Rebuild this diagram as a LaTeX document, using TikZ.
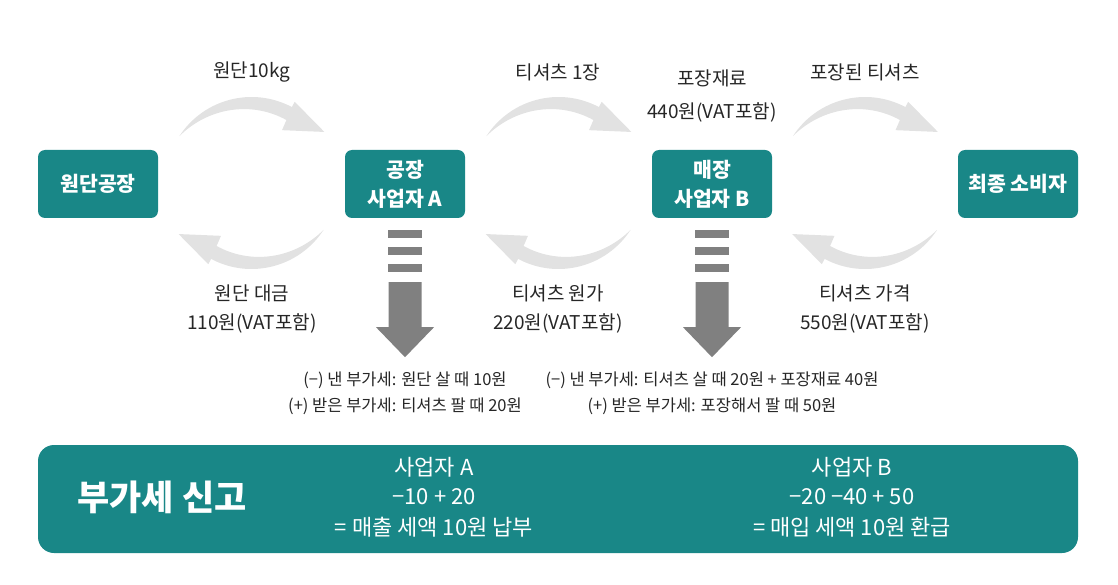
\documentclass[tikz,border=0pt]{standalone}
\usepackage{fontspec}
\setmainfont{Noto Sans CJK KR}
\usetikzlibrary{calc}
\definecolor{tealbox}{RGB}{25,135,135}
\definecolor{lgray}{RGB}{226,226,226}
\definecolor{dgray}{RGB}{128,128,128}
\definecolor{txt}{RGB}{38,38,38}
\tikzset{
  box/.style={fill=tealbox, rounded corners=7pt, minimum width=120pt, minimum height=68pt,
    text=white, font=\bfseries\fontsize{20.5}{29}\selectfont, align=center, inner sep=0pt},
  lbl/.style={text=txt, font=\fontsize{19}{30}\selectfont, inner sep=0pt},
  note/.style={text=txt, font=\fontsize{16.5}{26}\selectfont, inner sep=0pt},
  ptxt/.style={text=white, font=\fontsize{22}{30}\selectfont, inner sep=0pt},
  halfarrow/.pic={
    \begin{scope}[x=1pt,y=1pt]
    \fill[lgray] (147:86) arc[start angle=147, end angle=62, radius=86]
      -- (62:92) -- (35:89) -- (60:61) -- (61:72)
      -- plot[domain=61:147, samples=40, smooth] (\x:{72+14*((\x-61)/86)^2})
      -- cycle;
    \end{scope}
  },
  cycle pair/.pic={
    \pic {halfarrow};
    \pic[rotate=180] {halfarrow};
  },
  downarrow/.pic={
    \fill[dgray] (-17,12) rectangle (17,20);
    \fill[dgray] (-17,29) rectangle (17,37);
    \fill[dgray] (-17,46) rectangle (17,54);
    \fill[dgray] (-16.5,64) -- (16.5,64) -- (16.5,109) -- (29,109) -- (0,139)
      -- (-29,109) -- (-16.5,109) -- cycle;
  }
}
\begin{document}
\begin{tikzpicture}[x=1pt,y=-1pt]
\useasboundingbox (0,0) rectangle (1118,585);

% main boxes
\node[box] (src)  at (98,184)   {원단공장};
\node[box] (A)    at (405,184)  {공장\\사업자 A};
\node[box] (B)    at (712,184)  {매장\\사업자 B};
\node[box] (cons) at (1018,184) {최종 소비자};

% curved exchange arrows
\foreach \p/\q in {src/A, A/B, B/cons}{
  \begin{scope}[shift={($(\p)!0.5!(\q)+(0,-1)$)}]
    \pic {cycle pair};
  \end{scope}
}

% down arrows
\begin{scope}[shift={(A.south)}] \pic {downarrow}; \end{scope}
\begin{scope}[shift={(B.south)}] \pic {downarrow}; \end{scope}

% upper labels
\node[lbl] (l1)  at (252,72)  {원단10kg};
\node[lbl] (l2)  at (558,72)  {티셔츠 1장};
\node[lbl] (l3a) at (712,78)  {포장재료};
\node[lbl] (l3b) at (712,112) {440원(VAT포함)};
\node[lbl] (l4)  at (865,72)  {포장된 티셔츠};

% lower labels
\node[lbl] (m1a) at (252,293) {원단 대금};
\node[lbl] (m1b) at (252,323) {110원(VAT포함)};
\node[lbl] (m2a) at (558,293) {티셔츠 원가};
\node[lbl] (m2b) at (558,323) {220원(VAT포함)};
\node[lbl] (m3a) at (865,293) {티셔츠 가격};
\node[lbl] (m3b) at (865,323) {550원(VAT포함)};

% notes under down arrows
\node[note] (nA1) at (405,380) {(−) 낸 부가세: 원단 살 때 10원};
\node[note] (nA2) at (405,406) {(+) 받은 부가세: 티셔츠 팔 때 20원};
\node[note] (nB1) at (712,380) {(−) 낸 부가세: 티셔츠 살 때 20원 + 포장재료 40원};
\node[note] (nB2) at (712,406) {(+) 받은 부가세: 포장해서 팔 때 50원};

% bottom panel
\node[fill=tealbox, rounded corners=16pt, minimum width=1040pt, minimum height=108pt, inner sep=0pt] (panel) at (558,499) {};
\node[text=white, font=\bfseries\fontsize{35}{40}\selectfont, inner sep=0pt] (ptitle) at (162,497) {부가세 신고};
\node[ptxt] (pa1) at (434,467) {사업자 A};
\node[ptxt] (pa2) at (434,497) {−10 + 20};
\node[ptxt] (pa3) at (434,527) {= 매출 세액 10원 납부};
\node[ptxt] (pb1) at (852,467) {사업자 B};
\node[ptxt] (pb2) at (852,497) {−20 −40 + 50};
\node[ptxt] (pb3) at (852,527) {= 매입 세액 10원 환급};
\end{tikzpicture}
\end{document}
